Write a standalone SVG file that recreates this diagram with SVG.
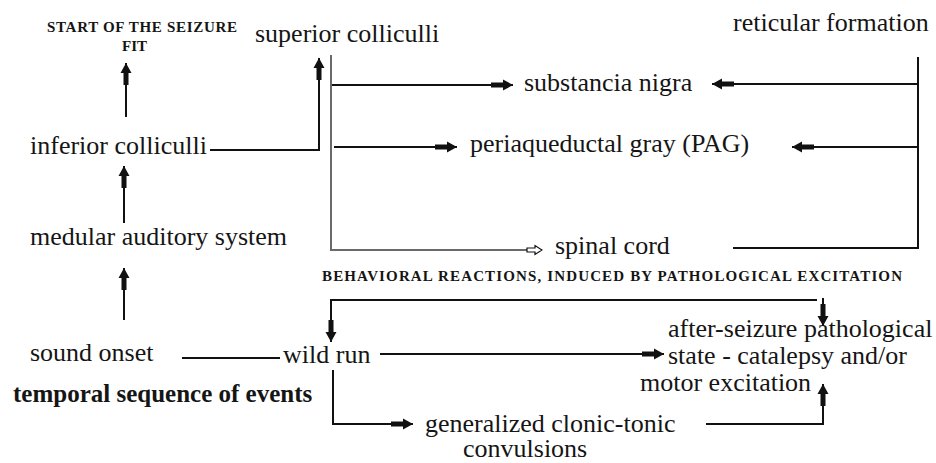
<svg xmlns="http://www.w3.org/2000/svg" width="936" height="463" viewBox="0 0 936 463">
<defs>
<marker id="ah" viewBox="-22 -6 22 12" refX="0" refY="0" markerWidth="22" markerHeight="12" markerUnits="userSpaceOnUse" orient="auto">
<path d="M-22,-2.5 L-10,-2.5 L-10,-5.5 L0,0 L-10,5.5 L-10,2.5 L-22,2.5 Z" fill="#111"/>
</marker>
<marker id="oh" viewBox="-16 -6 17 12" refX="0" refY="0" markerWidth="17" markerHeight="12" markerUnits="userSpaceOnUse" orient="auto">
<path d="M-15,-2 L-7,-2 L-7,-4.5 L0,0 L-7,4.5 L-7,2 L-15,2 Z" fill="#fff" stroke="#111" stroke-width="1.2"/>
</marker>
</defs>
<rect width="936" height="463" fill="#fff"/>
<g id="connectors" fill="none" stroke="#111" stroke-width="2">
<path d="M126,117 L126,63" marker-end="url(#ah)"/>
<path d="M124,223 L124,166" marker-end="url(#ah)"/>
<path d="M124,320 L124,268" marker-end="url(#ah)"/>
<path d="M210,150 L319,150 L319,58" marker-end="url(#ah)"/>
<path d="M331,55 L331,250 L542,250" stroke="#6a6a6a" marker-end="url(#oh)"/>
<path d="M332,85 L513,85" marker-end="url(#ah)"/>
<path d="M334,147 L457,147" marker-end="url(#ah)"/>
<path d="M918,57 L918,248 L733,248"/>
<path d="M918,84 L712,84" marker-end="url(#ah)"/>
<path d="M918,147 L792,147" marker-end="url(#ah)"/>
<path d="M817,300 L331,300 L331,342" marker-end="url(#ah)"/>
<path d="M823,298 L823,326" marker-end="url(#ah)"/>
<path d="M182,358 L280,358"/>
<path d="M380,354 L664,354" marker-end="url(#ah)"/>
<path d="M333,370 L333,424 L413,424" marker-end="url(#ah)"/>
<path d="M706,424 L823,424 L823,384" marker-end="url(#ah)"/>
</g>
<g id="labels" font-family="Liberation Serif" font-size="26" fill="#151515">
<g id="start" font-size="15" font-weight="bold"><text x="47" y="32" textLength="190">START OF THE SEIZURE</text><text x="122" y="51">FIT</text></g>
<g id="superior"><text x="255" y="42">superior colliculli</text></g>
<g id="reticular"><text x="733" y="31">reticular formation</text></g>
<g id="nigra"><text x="524" y="91">substancia nigra</text></g>
<g id="pag"><text x="470" y="152">periaqueductal gray (PAG)</text></g>
<g id="inferior"><text x="30" y="154">inferior colliculli</text></g>
<g id="medular"><text x="30" y="245">medular auditory system</text></g>
<g id="spinal"><text x="555" y="254">spinal cord</text></g>
<g id="behavioral" font-size="15" font-weight="bold"><text x="322" y="281" textLength="580">BEHAVIORAL REACTIONS, INDUCED BY PATHOLOGICAL EXCITATION</text></g>
<g id="sound"><text x="30" y="361">sound onset</text></g>
<g id="wildrun"><text x="283" y="363">wild run</text></g>
<g id="temporal" font-size="25" font-weight="bold"><text x="13" y="402">temporal sequence of events</text></g>
<g id="after"><text x="668" y="337">after-seizure pathological</text><text x="668" y="364">state - catalepsy and/or</text><text x="640" y="391">motor excitation</text></g>
<g id="convulsions"><text x="425" y="432">generalized clonic-tonic</text><text x="463" y="457">convulsions</text></g>
</g>
</svg>
